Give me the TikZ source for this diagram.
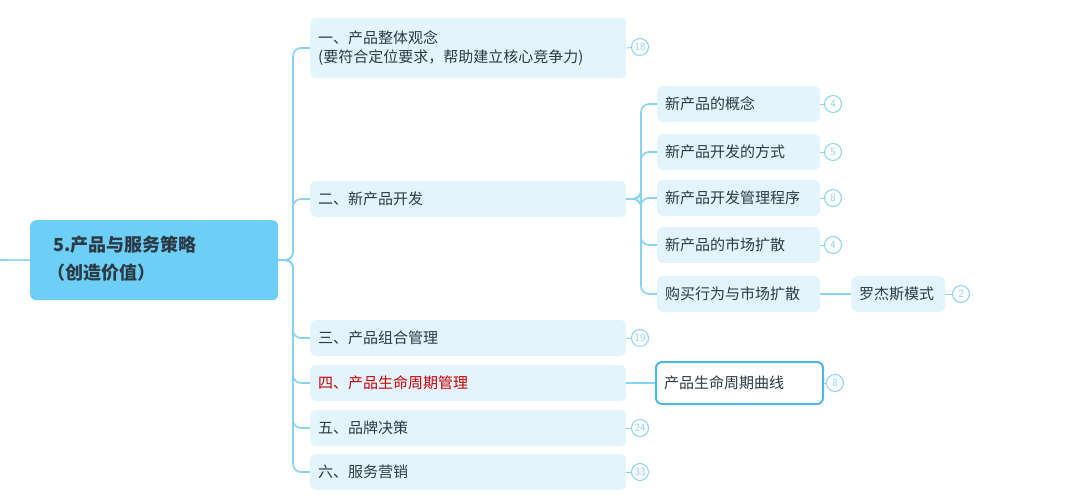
\documentclass[tikz,border=0pt]{standalone}
\usepackage{fontspec}
\newfontfamily\cjk{Noto Sans CJK SC}
\definecolor{ln}{HTML}{86D3F2}
\definecolor{bx}{HTML}{E4F4FC}
\definecolor{rt}{HTML}{6ECFF6}
\definecolor{tx}{HTML}{2B3A45}
\definecolor{bd}{HTML}{4DB8E8}
\tikzset{
 lv/.style={fill=bx,rounded corners=6pt,anchor=west,minimum height=36pt,text=tx,font=\cjk\fontsize{15}{19}\selectfont,inner xsep=8pt,align=left},
 badge/.style={circle,draw=ln,line width=1pt,minimum size=17pt,inner sep=0pt,text=ln,font=\fontsize{11}{11}\selectfont\sffamily},
 cn/.style={draw=ln,line width=1.6pt,rounded corners=8pt}
}
\begin{document}
\begin{tikzpicture}[x=1pt,y=-1pt]
\useasboundingbox (0,0) rectangle (1080,501);
\node[fill=rt,rounded corners=6pt,minimum width=248pt,minimum height=80pt,anchor=north west] (root) at (30,220) {};
\node[anchor=west,align=left,font=\cjk\bfseries\fontsize{18}{28}\selectfont,text=tx] at (44,259) {\hspace{6pt}5.产品与服务策略\\（创造价值）};
\coordinate (L) at (0,260);
\draw[cn] (L) -- (root.west);
\node[lv,text width=300pt,minimum height=60pt] (a1) at (310,48) {一、产品整体观念\\(要符合定位要求，帮助建立核心竞争力)};
\node[lv,text width=300pt] (a2) at (310,199) {二、新产品开发};
\node[lv,text width=300pt] (a3) at (310,338) {三、产品组合管理};
\node[lv,text width=300pt] (a4) at (310,383) {\color{red!80!black}四、产品生命周期管理};
\node[lv,text width=300pt] (a5) at (310,428) {五、品牌决策};
\node[lv,text width=300pt] (a6) at (310,472) {六、服务营销};
\foreach \n in {a1,a2,a3,a4,a5,a6}{\draw[cn] (root.east) -- (293,260) |- (\n.west);}
\node[badge] (b1) at (640,47) {18};
\node[badge] (b3) at (640,338) {19};
\node[badge] (b5) at (640,428) {24};
\node[badge] (b6) at (640,472) {33};
\draw[ln,line width=1pt] (a1.east) -- (b1); \draw[ln,line width=1pt] (a3.east) -- (b3);
\draw[ln,line width=1pt] (a5.east) -- (b5); \draw[ln,line width=1pt] (a6.east) -- (b6);
\node[lv,text width=147pt] (c1) at (657,104) {新产品的概念};
\node[lv,text width=147pt] (c2) at (657,152) {新产品开发的方式};
\node[lv,text width=147pt] (c3) at (657,198) {新产品开发管理程序};
\node[lv,text width=147pt] (c4) at (657,245) {新产品的市场扩散};
\node[lv,text width=147pt] (c5) at (657,294) {购买行为与市场扩散};
\foreach \n in {c1,c2,c3,c4,c5}{\draw[cn] (a2.east) -- (641,199) |- (\n.west);}
\node[badge] (d1) at (833,104) {4};
\node[badge] (d2) at (833,152) {5};
\node[badge] (d3) at (833,198) {8};
\node[badge] (d4) at (833,245) {4};
\foreach \i in {1,2,3,4}{\draw[ln,line width=1pt] (c\i.east) -- (d\i);}
\node[lv,text width=78pt] (e1) at (851,294) {罗杰斯模式};
\draw[cn] (c5.east) -- (e1.west);
\node[badge] (f1) at (961,294) {2};
\draw[ln,line width=1pt] (e1.east) -- (f1);
\node[lv,fill=white,draw=bd,line width=2pt,text width=151pt,minimum height=42pt] (g1) at (655,383) {产品生命周期曲线};
\draw[cn] (a4.east) -- (g1.west);
\node[badge] (h1) at (835,383) {8};
\draw[ln,line width=1pt] (g1.east) -- (h1);
\end{tikzpicture}
\end{document}
